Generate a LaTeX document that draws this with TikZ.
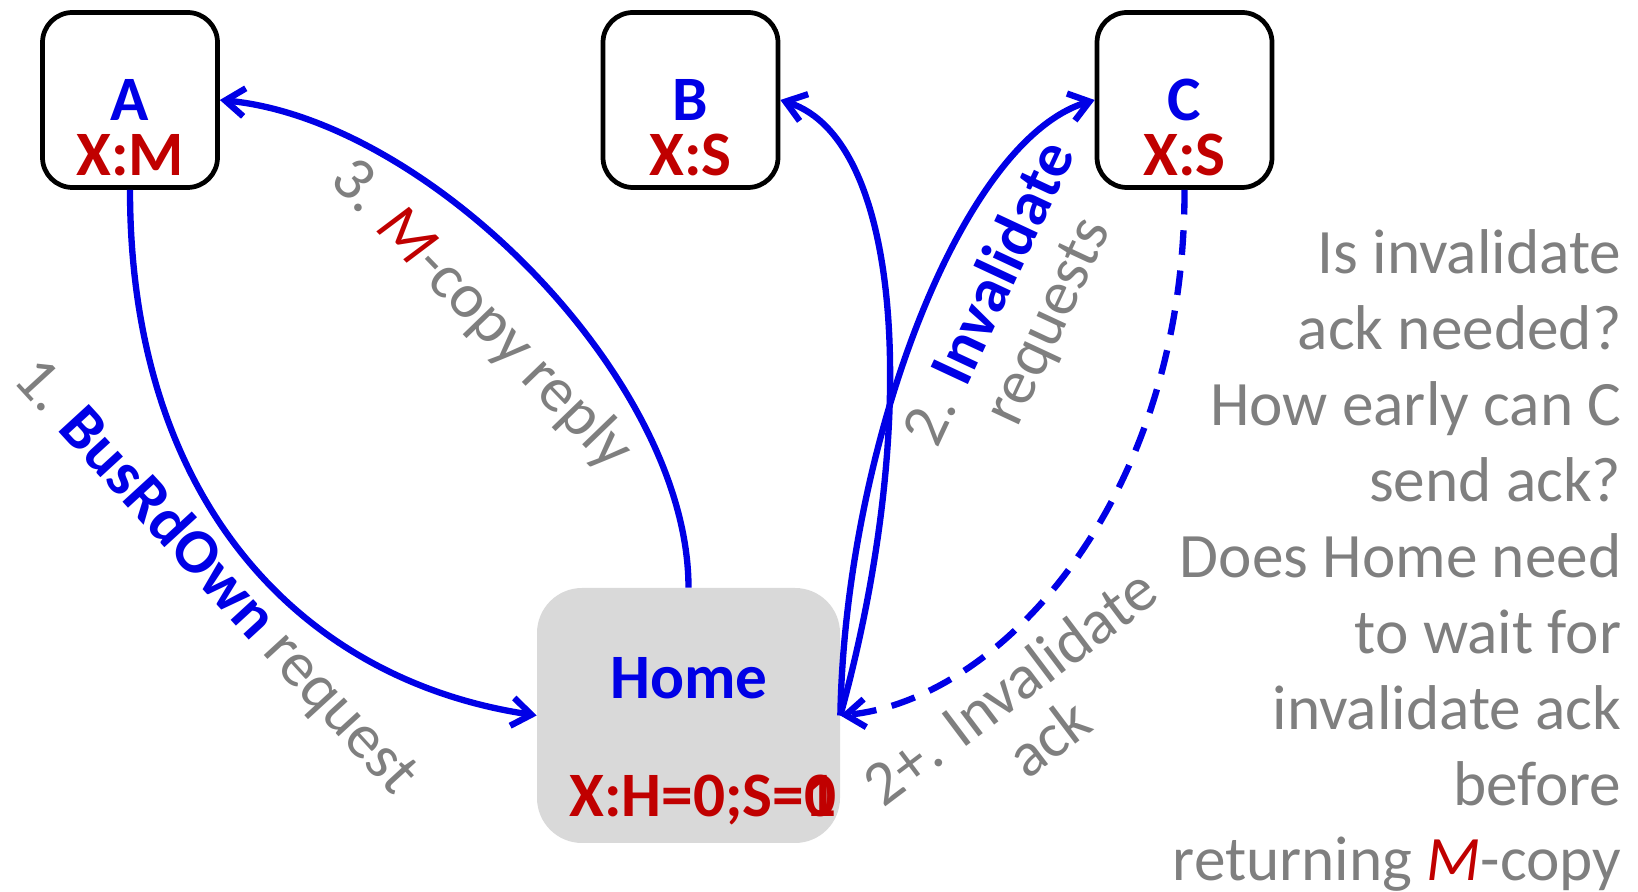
\documentclass[tikz,border=0pt]{standalone}
\usepackage{fontspec}
\setmainfont{Carlito}
\usepackage{tikz}
\usetikzlibrary{arrows.meta}
\usetikzlibrary{calc}

\definecolor{msgblue}{RGB}{0,0,230}
\definecolor{statered}{RGB}{192,0,0}
\definecolor{notegray}{RGB}{127,127,127}
\definecolor{homegray}{RGB}{217,217,217}

\begin{document}
\begin{tikzpicture}[
    >={Straight Barb[length=11pt,width=16pt]},
    every node/.style={font=\fontsize{36}{43.2}\selectfont},
    cache/.style={draw, line width=2.7pt, rounded corners=0.6cm,
      minimum width=3.5cm, minimum height=3.5cm},
    home/.style={fill=homegray, rounded corners=0.9cm,
      minimum width=6.06cm, minimum height=5.1cm},
    msg/.style={msgblue, line width=3.6pt},
    tag/.style={msgblue, font=\fontsize{36}{43.2}\selectfont\bfseries, anchor=base},
    st/.style={statered, font=\fontsize{36}{43.2}\selectfont\bfseries, anchor=base},
    note/.style={notegray},
    tight/.style={font=\fontsize{36}{36.4}\selectfont}
  ]

  \useasboundingbox (0, 0) rectangle (32.76, 17.84);

  \node [cache] (A) at (2.6, 15.84) {};
  \node [cache] (B) at (13.81, 15.84) {};
  \node [cache] (C) at (23.69, 15.84) {};
  \node [home] (Home) at (13.77, 3.53) {};

  \node [tag] (A-name) at ($(A.center) + (0, -0.42)$) {A};
  \node [st] (A-state) at ($(A.center) + (0, -1.52)$) {X:M};
  \node [tag] (B-name) at ($(B.center) + (0, -0.42)$) {B};
  \node [st] (B-state) at ($(B.center) + (0, -1.52)$) {X:S};
  \node [tag] (C-name) at ($(C.center) + (0, -0.42)$) {C};
  \node [st] (C-state) at ($(C.center) + (0, -1.52)$) {X:S};
  \node [tag] (Home-name) at (13.78, 3.86) {Home};
  \node [st] (Home-state) at (14.06, 1.5) {X:H=0;S=\rlap{0}1};

  \draw [msg, ->] (A.south) .. controls (2.6, 7.84) and (6, 4.24) .. (Home.west);
  \draw [msg, ->] (Home.north) .. controls (13.77, 10.24) and (8.6, 15.44) .. (A.east);
  \draw [msg, ->] (Home.east) .. controls (18.4, 9.3) and (18.1, 15.04) .. (B.east);
  \draw [msg, ->] (Home.east) .. controls (16.9, 8.84) and (19.2, 15.04) .. (C.west);
  \draw [msg, ->, dash pattern=on 14pt off 9pt]
    (C.south) .. controls (23.7, 7.84) and (20, 3.84) .. (Home.east);

  \node [note, rotate=-47.5] (req-label) at (4.3, 6.3)
    {1. {\color{msgblue}\bfseries BusRdOwn} request};
  \node [note, rotate=-46] (reply-label) at (9.62, 11.54)
    {3. {\color{statered}\itshape M}-copy reply};
  \node [note, tight, rotate=65, align=center] (inv-label) at (20.4, 11.68)
    {2. {\color{msgblue}\bfseries Invalidate}\\requests};
  \node [note, tight, rotate=37, align=center] (ack-label) at (20.58, 3.6)
    {2+. Invalidate\\ack};

  \node [note, align=right, anchor=base east] (question) at (32.55, 0.22)
    {Is invalidate\\ack needed?\\How early can C\\send ack?\\Does Home need\\to wait for\\invalidate ack\\before\\returning {\color{statered}\itshape M}-copy};

\end{tikzpicture}
\end{document}
